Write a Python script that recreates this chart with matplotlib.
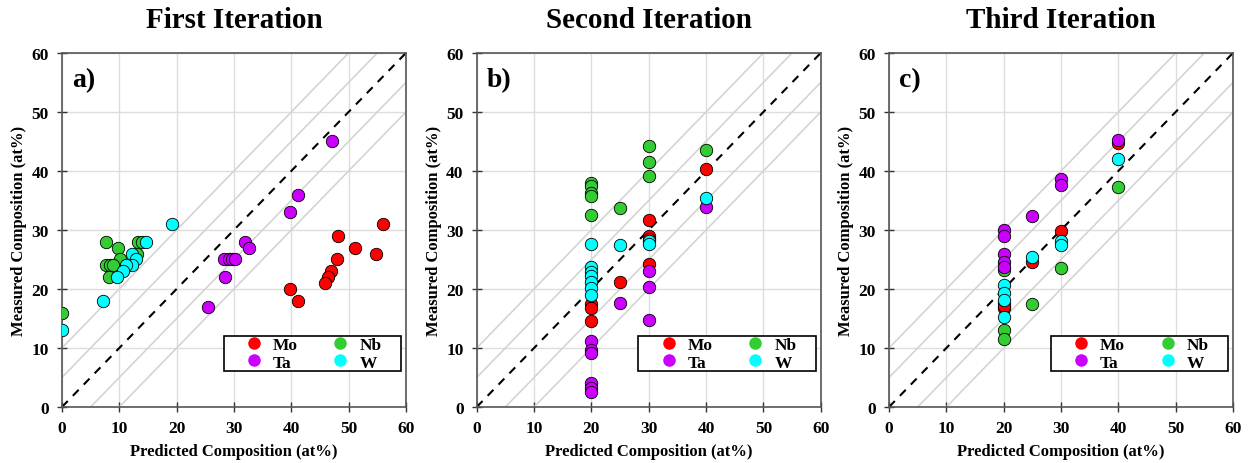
import numpy as np
import matplotlib
matplotlib.use('Agg')
import matplotlib.pyplot as plt
from matplotlib.lines import Line2D
from matplotlib.patches import Rectangle

plt.rcParams['font.family'] = ['Liberation Serif', 'DejaVu Serif']
plt.rcParams['font.weight'] = 'bold'

# ---- first iteration (predicted, measured) in at%
mo1_x = [39.7, 41.2, 56.0, 48.2, 51.1, 54.7, 48.0, 47.0, 46.4, 45.9]
mo1_y = [20, 18, 31, 29, 27, 26, 25, 23, 22, 21]
ta1_x = [47.1, 41.2, 39.7, 31.9, 32.6, 28.3, 29.2, 29.7, 30.2, 28.4, 25.5]
ta1_y = [45, 36, 33, 28, 27, 25, 25, 25, 25, 22, 17]
nb1_x = [0.0, 7.7, 9.7, 10.1, 7.7, 8.3, 8.9, 8.2, 13.3, 13.9, 13.1]
nb1_y = [16, 28, 27, 25, 24, 24, 24, 22, 28, 28, 26]
w1_x = [0.0, 7.1, 19.2, 14.6, 12.3, 12.9, 12.3, 11.1, 10.7, 9.6]
w1_y = [13, 18, 31, 28, 26, 25, 24, 24, 23, 22]

# ---- second iteration
mo2_x = [20, 20, 20, 25, 30, 30, 30, 30, 40]
mo2_y = [17.4, 16.8, 14.5, 21.1, 31.7, 28.9, 28.4, 24.3, 40.4]
ta2_x = [20, 20, 20, 20, 20, 20, 25, 30, 30, 30, 40]
ta2_y = [11.1, 9.7, 9.1, 4.1, 3.2, 2.5, 17.7, 23.1, 20.4, 14.8, 33.9]
nb2_x = [20, 20, 20, 20, 20, 25, 30, 30, 30, 40]
nb2_y = [37.9, 37.5, 36.2, 35.8, 32.6, 33.7, 44.3, 41.5, 39.2, 43.6]
w2_x = [20, 20, 20, 20, 20, 20, 20, 25, 30, 30, 40]
w2_y = [27.7, 23.8, 22.8, 22.2, 21.1, 20.2, 18.9, 27.4, 28.1, 27.7, 35.4]

# ---- third iteration
mo3_x = [20, 20, 20, 25, 30, 40]
mo3_y = [17.7, 16.8, 17.2, 24.6, 29.9, 44.7]
ta3_x = [20, 20, 20, 20, 20, 25, 30, 30, 40]
ta3_y = [30.0, 29.0, 26.0, 24.6, 23.8, 32.4, 38.7, 37.6, 45.3]
nb3_x = [20, 20, 20, 25, 30, 40]
nb3_y = [23.2, 13.1, 11.5, 17.4, 23.6, 37.2]
w3_x = [20, 20, 20, 20, 25, 30, 30, 40]
w3_y = [20.6, 19.4, 18.2, 15.3, 25.5, 28.2, 27.4, 42.1]

titles = ['First Iteration', 'Second Iteration', 'Third Iteration']
tags = ['a)', 'b)', 'c)']
colors = {'Mo': '#ff0000', 'Nb': '#33cc33', 'Ta': '#cc00ff', 'W': '#00ffff'}

panels = [
	{'Mo': (mo1_x, mo1_y), 'Ta': (ta1_x, ta1_y), 'Nb': (nb1_x, nb1_y), 'W': (w1_x, w1_y)},
	{'Mo': (mo2_x, mo2_y), 'Ta': (ta2_x, ta2_y), 'Nb': (nb2_x, nb2_y), 'W': (w2_x, w2_y)},
	{'Mo': (mo3_x, mo3_y), 'Ta': (ta3_x, ta3_y), 'Nb': (nb3_x, nb3_y), 'W': (w3_x, w3_y)},
]

fig = plt.figure(figsize=(12.49, 4.64), dpi=100)
lefts = [0.0496, 0.3817, 0.7118]

for i, data in enumerate(panels):
	ax = fig.add_axes([lefts[i], 0.1207, 0.2754, 0.763])
	ax.set_xlim(0, 60)
	ax.set_ylim(0, 60)
	ax.grid(True, color='#dddddd', lw=1.0)
	ax.set_axisbelow(True)

	# +-5 and +-10 at% bands around the parity line
	xx = np.array([0, 60])
	for off in [-10, -5, 5, 10]:
		ax.plot(xx, xx + off, color='#d4d4d4', lw=1.2, zorder=1)
	ax.plot(xx, xx, color='black', lw=1.5, ls=(0, (4, 3.5)), zorder=2)

	for el in ['Mo', 'Nb', 'Ta', 'W']:
		x, y = data[el]
		ax.scatter(x, y, s=80, c=colors[el], edgecolors='black', linewidths=0.6, zorder=3)

	ax.set_xticks(range(0, 61, 10))
	ax.set_yticks(range(0, 61, 10))
	ax.tick_params(direction='inout', length=7, width=1, colors='#333333',
		labelsize=12.5, labelcolor='black', pad=6)
	for lab in ax.get_xticklabels() + ax.get_yticklabels():
		lab.set_fontweight('bold')
	for sp in ax.spines.values():
		sp.set_color('#555555')
		sp.set_linewidth(1.2)

	ax.set_xlabel('Predicted Composition (at%)', fontsize=12, fontweight='bold', labelpad=5)
	ax.set_ylabel('Measured Composition (at%)', fontsize=12, fontweight='bold', labelpad=3)
	ax.set_title(titles[i], fontsize=21, fontweight='bold', pad=19)
	ax.text(0.03, 0.925, tags[i], transform=ax.transAxes, fontsize=20,
		fontweight='bold', va='center', ha='left')

	# legend box drawn by hand, entries placed inside it
	ax.add_patch(Rectangle((0.470, 0.1006), 0.5166, 0.1008, transform=ax.transAxes,
		facecolor='white', edgecolor='black', lw=1.2, zorder=4))
	handles = [Line2D([], [], ls='', marker='o', ms=8, mfc=colors[el], mec=colors[el], label=el)
		for el in ['Mo', 'Ta', 'Nb', 'W']]
	leg = ax.legend(handles=handles, ncol=2, loc='center', bbox_to_anchor=(0.7285, 0.151),
		frameon=False, prop={'weight': 'bold', 'size': 12.5}, handlelength=1.2,
		handletextpad=0.5, columnspacing=1.85, borderpad=0, labelspacing=0.1)
	leg.set_zorder(5)

plt.savefig('out.png', dpi=100)
